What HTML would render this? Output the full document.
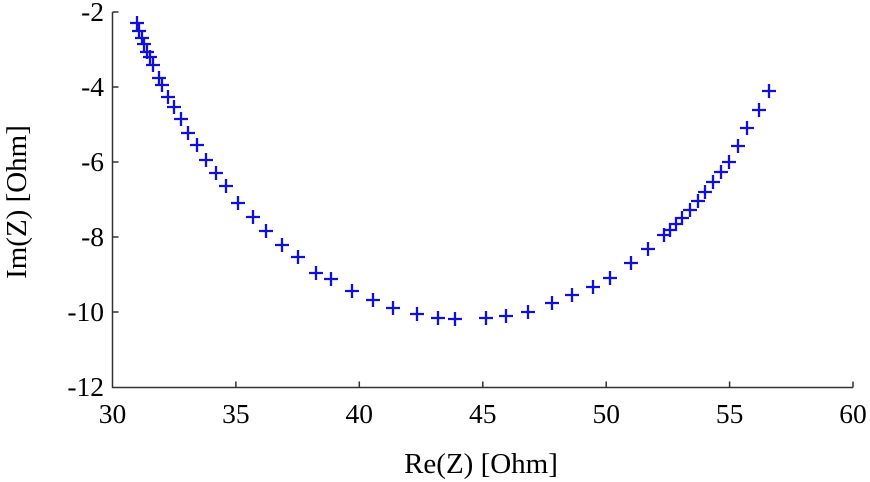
<!DOCTYPE html>
<html><head><meta charset="utf-8"><style>
html,body{margin:0;padding:0;background:#fff;}
svg{display:block;}
text{font-family:"Liberation Serif",serif;fill:#000;}
</style></head><body>
<svg width="870" height="482" viewBox="0 0 870 482" xmlns="http://www.w3.org/2000/svg">
<g stroke="#333" stroke-width="1.5" fill="none">
<path d="M112.5,12 V387.5 H853"/>
<path d="M112.5,12 h6 M112.5,87 h6 M112.5,162 h6 M112.5,237 h6 M112.5,312 h6"/>
<path d="M235.9,387.5 v-6 M359.3,387.5 v-6 M482.8,387.5 v-6 M606.2,387.5 v-6 M729.6,387.5 v-6 M853,387.5 v-6"/>
</g>
<g font-size="27.5" text-anchor="end">
<text x="104" y="21">-2</text>
<text x="104" y="96">-4</text>
<text x="104" y="171">-6</text>
<text x="104" y="246">-8</text>
<text x="104" y="321">-10</text>
<text x="104" y="396">-12</text>
</g>
<g font-size="27.5" text-anchor="middle">
<text x="112.5" y="423">30</text>
<text x="235.9" y="423">35</text>
<text x="359.3" y="423">40</text>
<text x="482.8" y="423">45</text>
<text x="606.2" y="423">50</text>
<text x="729.6" y="423">55</text>
<text x="853" y="423">60</text>
</g>
<g font-size="29" text-anchor="middle">
<text x="481" y="473">Re(Z) [Ohm]</text>
<text transform="translate(26,202) rotate(-90)">Im(Z) [Ohm]</text>
</g>
<path stroke="#1010d8" stroke-width="2.3" fill="none" d="M130,23h14M137,16v14 M132,31h14M139,24v14 M135,38h14M142,31v14 M137,44h14M144,37v14 M140,52h14M147,45v14 M143,57h14M150,50v14 M146,65h14M153,58v14 M152,78h14M159,71v14 M155,85h14M162,78v14 M161,97h14M168,90v14 M167,107h14M174,100v14 M174,119h14M181,112v14 M181,133h14M188,126v14 M190,145h14M197,138v14 M199,160h14M206,153v14 M209,173h14M216,166v14 M219,186h14M226,179v14 M231,203h14M238,196v14 M246,217h14M253,210v14 M259,231h14M266,224v14 M275,245h14M282,238v14 M291,257h14M298,250v14 M309,273h14M316,266v14 M324,279h14M331,272v14 M345,291h14M352,284v14 M366,300h14M373,293v14 M386,308h14M393,301v14 M410,314h14M417,307v14 M431,318h14M438,311v14 M448,319h14M455,312v14 M479,318h14M486,311v14 M499,316h14M506,309v14 M521,312h14M528,305v14 M545,303h14M552,296v14 M565,295h14M572,288v14 M586,287h14M593,280v14 M603,278h14M610,271v14 M624,263h14M631,256v14 M641,249h14M648,242v14 M657,235h14M664,228v14 M663,230h14M670,223v14 M669,224h14M676,217v14 M675,218h14M682,211v14 M683,210h14M690,203v14 M691,201h14M698,194v14 M698,192h14M705,185v14 M706,182h14M713,175v14 M714,172h14M721,165v14 M722,162h14M729,155v14 M731,146h14M738,139v14 M740,128h14M747,121v14 M752,110h14M759,103v14 M762,91h14M769,84v14"/>
</svg>
</body></html>
